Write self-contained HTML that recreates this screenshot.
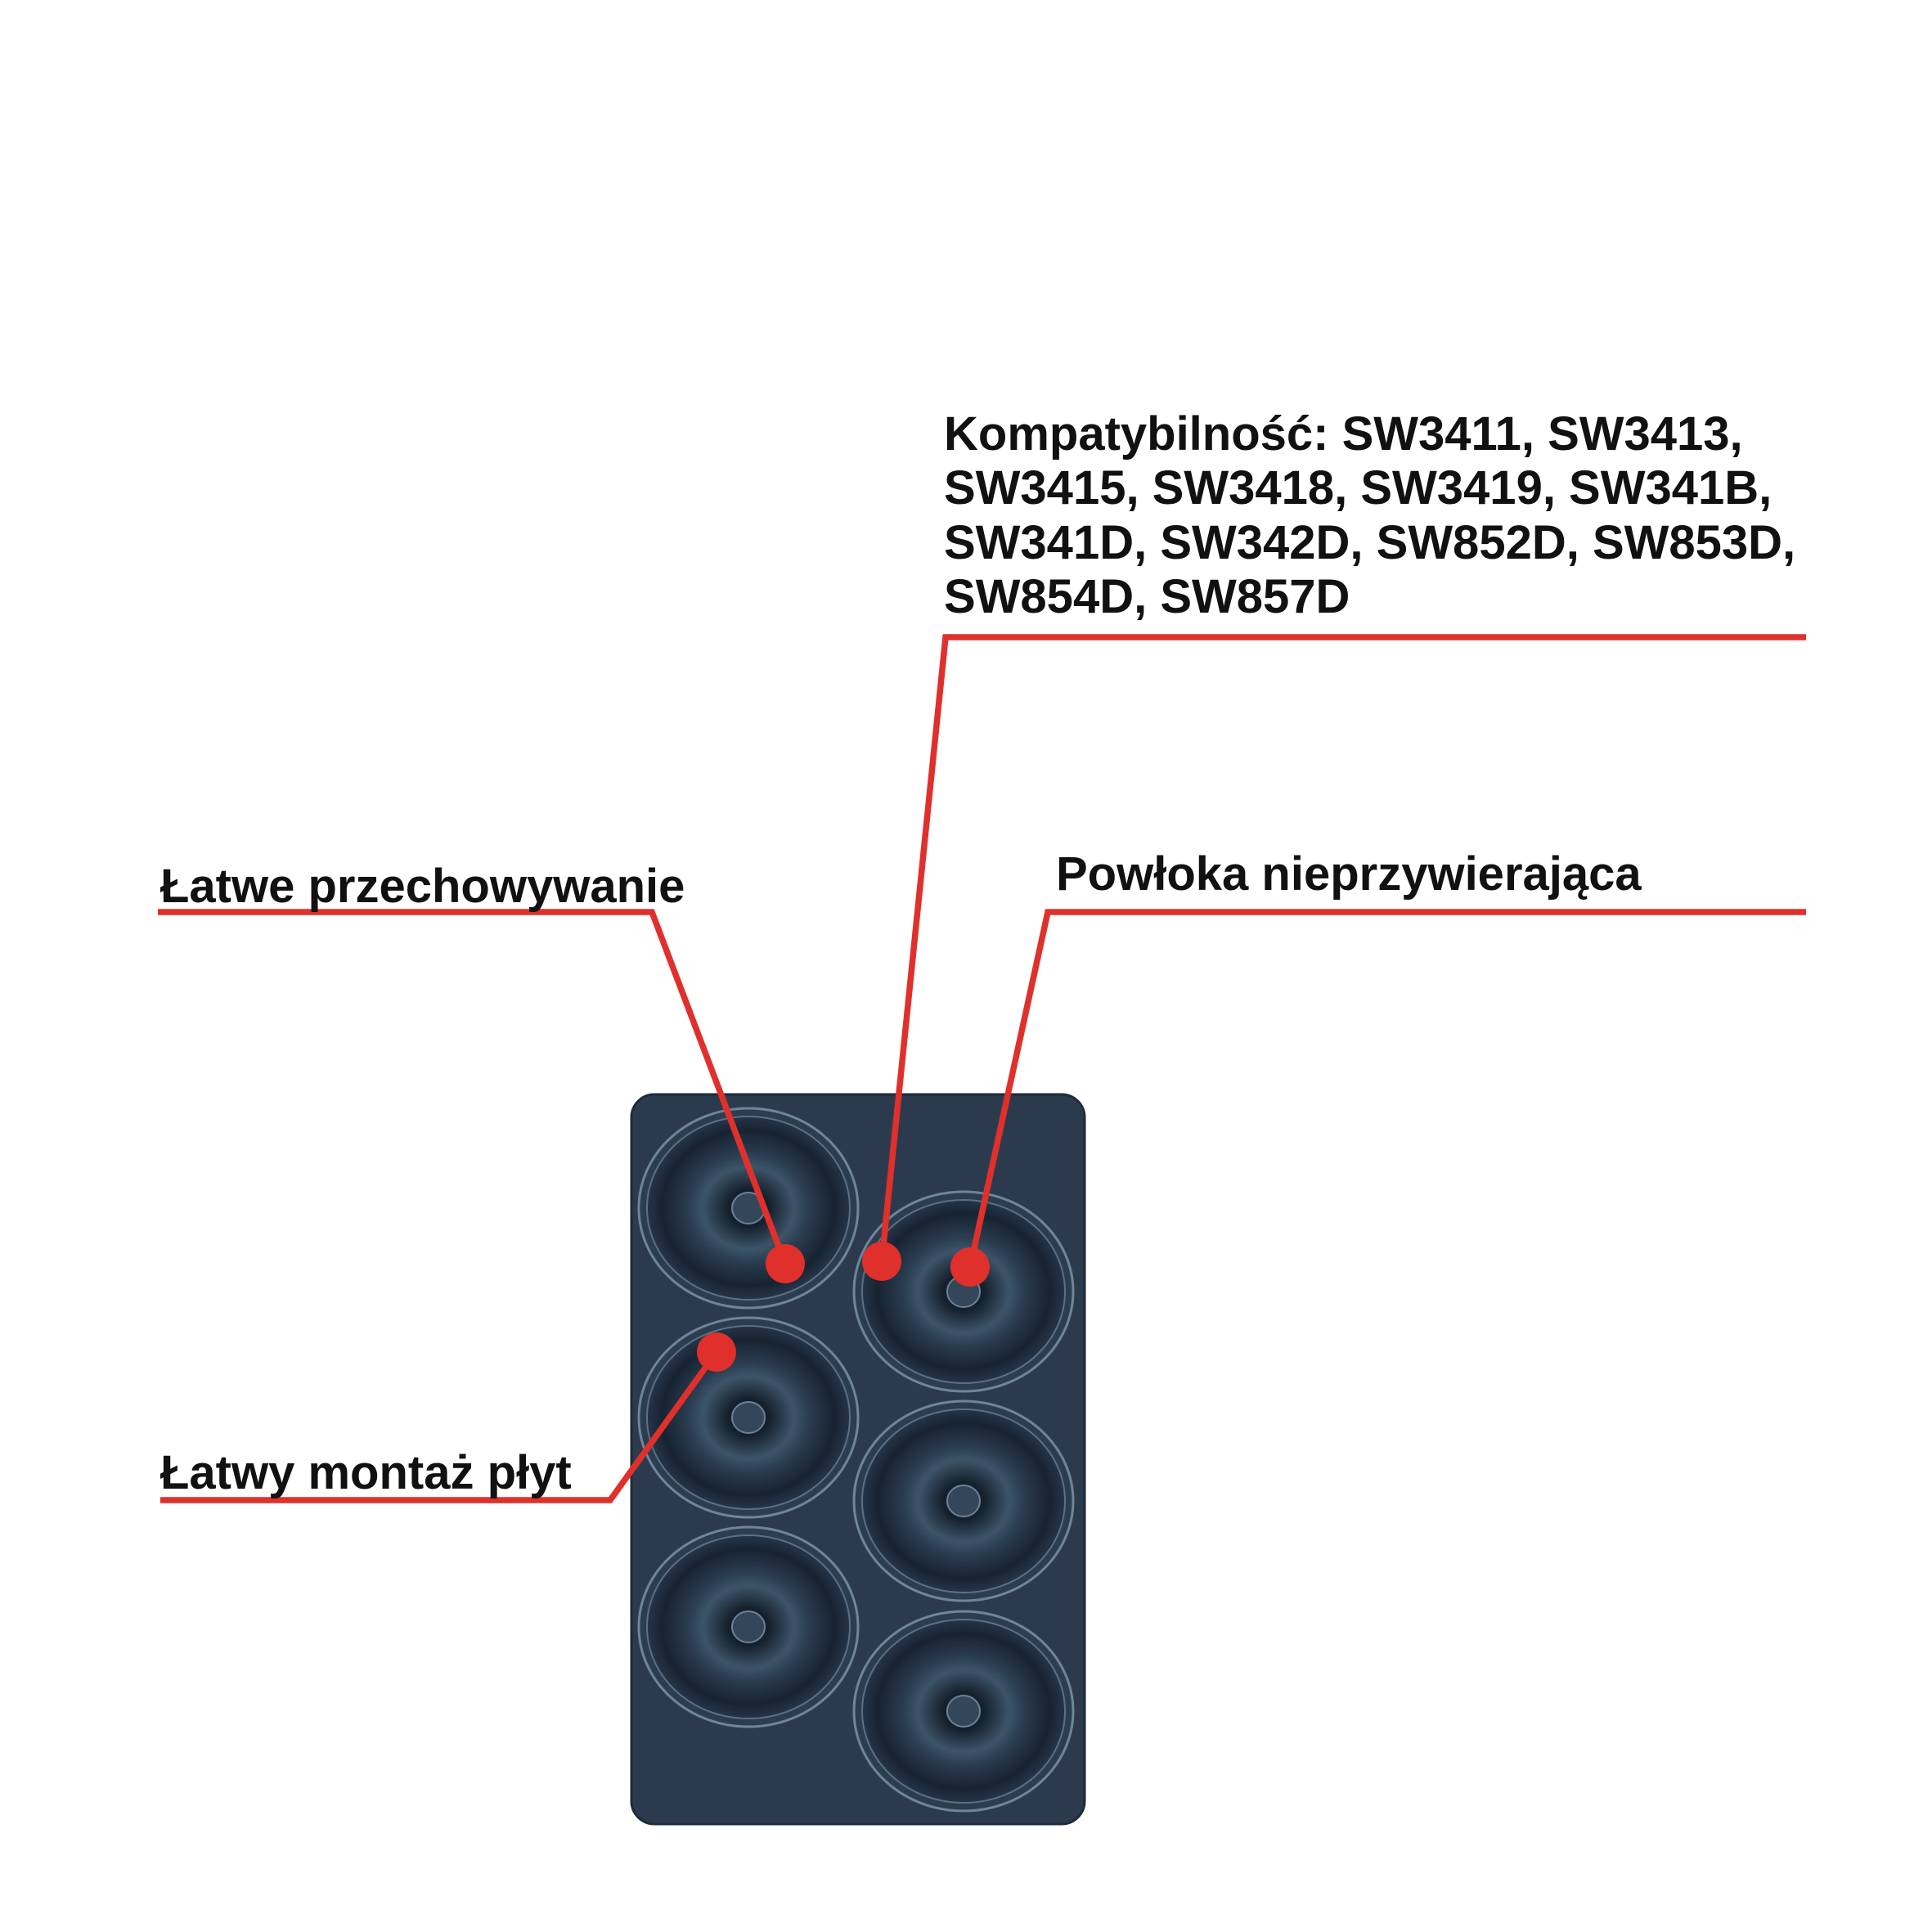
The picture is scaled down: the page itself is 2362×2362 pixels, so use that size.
<!DOCTYPE html>
<html><head><meta charset="utf-8"><style>
html,body{margin:0;padding:0;background:#fff}
svg{display:block}
text{font-family:"Liberation Sans",Arial,sans-serif;font-weight:bold;font-size:58px;fill:#111}
</style></head><body>
<svg width="2362" height="2362" viewBox="0 0 2362 2362" xmlns="http://www.w3.org/2000/svg">
<defs>
<radialGradient id="d" cx="50%" cy="50%" r="50%">
<stop offset="0" stop-color="#1c2837"/>
<stop offset="0.2" stop-color="#14202d"/>
<stop offset="0.45" stop-color="#3d5468"/>
<stop offset="0.6" stop-color="#2a3c4f"/>
<stop offset="0.85" stop-color="#172332"/>
<stop offset="1" stop-color="#253548"/>
</radialGradient>
<g id="donut">
<ellipse rx="134" ry="122" fill="#2c3d50" stroke="#6f8599" stroke-width="3"/>
<ellipse rx="124" ry="112" fill="url(#d)" stroke="#5a7085" stroke-width="2"/>
<ellipse rx="20" ry="19" fill="#34475a" stroke="#6c8296" stroke-width="2"/>
</g>
</defs>
<rect x="772" y="1338" width="554" height="892" rx="28" fill="#2b3b4d" stroke="#1e2b3a" stroke-width="3"/>
<use href="#donut" x="915" y="1477"/>
<use href="#donut" x="915" y="1733"/>
<use href="#donut" x="915" y="1989"/>
<use href="#donut" x="1178" y="1579"/>
<use href="#donut" x="1178" y="1835"/>
<use href="#donut" x="1178" y="2092"/>
<g fill="none" stroke="#e0302c" stroke-width="7.5" stroke-linejoin="miter">
<polyline points="193,1115 797,1115 960,1545"/>
<polyline points="2208,779 1156,779 1078,1542"/>
<polyline points="2208,1115 1281,1115 1186,1549"/>
<polyline points="196,1834 746,1834 876,1653"/>
</g>
<g fill="#e0302c">
<circle cx="960" cy="1545" r="24"/>
<circle cx="1078" cy="1542" r="24"/>
<circle cx="1186" cy="1549" r="24"/>
<circle cx="876" cy="1653" r="24"/>
</g>
<text x="1154" y="550">Kompatybilność: SW3411, SW3413,</text>
<text x="1154" y="616">SW3415, SW3418, SW3419, SW341B,</text>
<text x="1154" y="683">SW341D, SW342D, SW852D, SW853D,</text>
<text x="1154" y="749">SW854D, SW857D</text>
<text x="196" y="1103">Łatwe przechowywanie</text>
<text x="1291" y="1088">Powłoka nieprzywierająca</text>
<text x="196" y="1820">Łatwy montaż płyt</text>
</svg>
</body></html>
